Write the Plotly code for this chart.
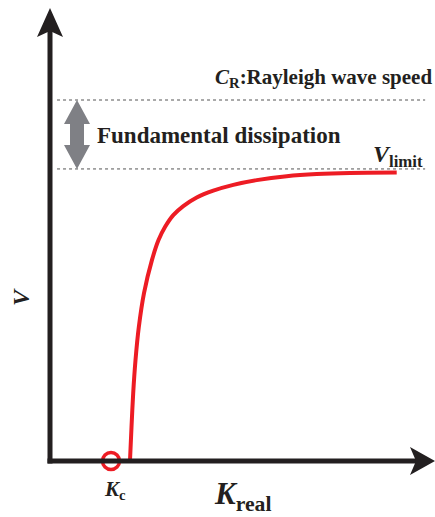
import plotly.graph_objects as go

# ---- data (K in units of K_c, V in units of C_R) ----
K_c = 1.0
C_R = 1.0
V_limit = 0.809
k_curve = [1.311, 1.336, 1.364, 1.402, 1.456, 1.541, 1.672, 1.779, 1.885, 2.021,
           2.185, 2.405, 2.677, 3.005, 3.389, 3.880, 4.372, 4.918, 5.684]
v_curve = [0.000, 0.094, 0.188, 0.280, 0.371, 0.465, 0.557, 0.612, 0.648, 0.681,
           0.706, 0.730, 0.749, 0.765, 0.778, 0.789, 0.795, 0.798, 0.799]
dash_k_start, dash_k_end = 0.115, 6.15

W, H = 435, 517
# axis ranges (pixel layout: K=0 at x=50px, 61px per unit; V=0 at y=461px, 361px per unit)
X0PX, XS = 50, 61.0
Y0PX, YS = 461, 361.0
xr = [(0 - X0PX) / XS, (W - X0PX) / XS]
yr = [(Y0PX - H) / YS, Y0PX / YS]

def kx(px):
    return (px - X0PX) / XS

def vy(py):
    return (Y0PX - py) / YS

RED = "#ed1c24"
AX = "#231f20"
GRAY = "#7f8085"
FONT = "Liberation Serif, Times New Roman, serif"

fig = go.Figure()

fig.add_trace(go.Scatter(x=k_curve, y=v_curve, mode="lines",
                         line=dict(color=RED, width=4, shape="spline", smoothing=0.8),
                         hoverinfo="skip", showlegend=False))

shapes = []
# dashed reference lines
for v in (C_R, V_limit):
    shapes.append(dict(type="line", xref="x", yref="y", x0=dash_k_start, x1=dash_k_end,
                       y0=v, y1=v, line=dict(color="#555555", width=1, dash="3px,3px")))
# axes
shapes.append(dict(type="line", xref="x", yref="y", x0=0, x1=0, y0=vy(463.5), y1=vy(30),
                   line=dict(color=AX, width=5)))
shapes.append(dict(type="line", xref="x", yref="y", x0=kx(47.5), x1=kx(420), y0=0, y1=0,
                   line=dict(color=AX, width=5)))
# arrow heads
up = "M {} {} L {} {} L {} {} L {} {} Z".format(kx(50), vy(8), kx(37), vy(37), kx(50), vy(31), kx(63), vy(37))
right = "M {} {} L {} {} L {} {} L {} {} Z".format(kx(435), vy(461), kx(410), vy(447), kx(416), vy(461), kx(410), vy(475))
for p in (up, right):
    shapes.append(dict(type="path", xref="x", yref="y", path=p, fillcolor=AX, line=dict(width=0)))
# gray double arrow between C_R and V_limit
cx = 77
top, bot = 100, 169
hw, sw, hl = 13, 7, 24
pts = [(cx, top), (cx + hw, top + hl), (cx + sw, top + hl), (cx + sw, bot - hl), (cx + hw, bot - hl),
       (cx, bot), (cx - hw, bot - hl), (cx - sw, bot - hl), (cx - sw, top + hl), (cx - hw, top + hl)]
path = "M " + " L ".join("{} {}".format(kx(a), vy(b)) for a, b in pts) + " Z"
shapes.append(dict(type="path", xref="x", yref="y", path=path, fillcolor=GRAY, line=dict(width=0)))

# K_c circle
fig.add_trace(go.Scatter(x=[K_c], y=[0], mode="markers",
                         marker=dict(symbol="circle", size=17, color="white",
                                     line=dict(color=RED, width=3.5)),
                         hoverinfo="skip", showlegend=False))

ann = []
def text(px, py, s, size, xanchor="center", angle=0):
    ann.append(dict(x=kx(px), y=vy(py), xref="x", yref="y", text=s, showarrow=False,
                    xanchor=xanchor, yanchor="middle", textangle=angle,
                    font=dict(family=FONT, size=size, color="#231f20")))

text(434, 78, "<b><i>C</i><sub>R</sub>:Rayleigh wave speed</b>", 21, "right")
text(95, 135, "<b>Fundamental dissipation</b>", 23, "left")
text(371, 156, "<b><i>V</i><sub>limit</sub></b>", 24, "left")
text(115, 490, "<b><i>K</i><sub>c</sub></b>", 21)
text(242, 496, "<b><i>K</i><sub>real</sub></b>", 31)
text(21, 297, "<b><i>V</i></b>", 24, angle=-90)

fig.update_layout(width=W, height=H, margin=dict(l=0, r=0, t=0, b=0),
                  paper_bgcolor="white", plot_bgcolor="white",
                  xaxis=dict(range=xr, visible=False, fixedrange=True),
                  yaxis=dict(range=yr, visible=False, fixedrange=True),
                  shapes=shapes, annotations=ann, showlegend=False)

fig.write_html("out.html", config={"displayModeBar": False, "staticPlot": True},
               post_script="document.body.style.margin='0px';document.body.style.padding='0px';")
